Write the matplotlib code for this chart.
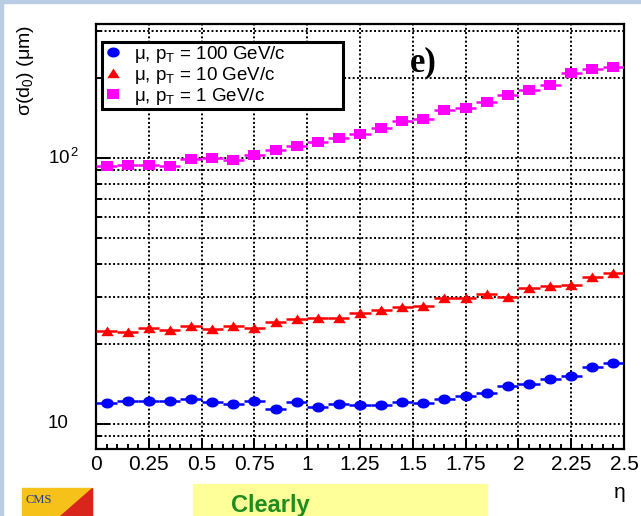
import numpy as np
import matplotlib
matplotlib.use("Agg")
import matplotlib.pyplot as plt
from matplotlib.lines import Line2D
from matplotlib.patches import Rectangle, Polygon
from matplotlib.ticker import LogLocator, NullFormatter, MultipleLocator

plt.rcParams['font.family'] = ['Liberation Sans', 'DejaVu Sans']
plt.rcParams['mathtext.fontset'] = 'custom'
plt.rcParams['mathtext.rm'] = 'Liberation Sans'
plt.rcParams['mathtext.it'] = 'Liberation Sans:italic'

# bin centres in eta (bin width 0.1)
eta = [0.05, 0.15, 0.25, 0.35, 0.45, 0.55, 0.65, 0.75, 0.85, 0.95,
       1.05, 1.15, 1.25, 1.35, 1.45, 1.55, 1.65, 1.75, 1.85, 1.95,
       2.05, 2.15, 2.25, 2.35, 2.45]
half_bin = 0.05

# sigma(d0) in micrometres
sig_100 = [12.0, 12.2, 12.2, 12.2, 12.45, 12.05, 11.9, 12.2, 11.4, 12.1,
           11.6, 11.9, 11.75, 11.8, 12.1, 12.0, 12.4, 12.75, 13.1, 13.9,
           14.1, 14.8, 15.2, 16.4, 17.0]
sig_10 = [22.4, 22.2, 22.9, 22.5, 23.3, 22.8, 23.3, 23.0, 24.2, 24.8,
          25.1, 25.1, 26.2, 26.8, 27.5, 27.8, 29.7, 29.9, 30.8, 30.1,
          32.4, 33.1, 33.4, 35.6, 37.1]
sig_1 = [93.6, 94.7, 94.7, 93.6, 99.1, 100.3, 98.3, 102.4, 107.2, 111.6,
         115.2, 119.6, 123.5, 130.0, 137.7, 141.0, 151.4, 155.1, 162.8, 173.6,
         181.3, 188.0, 210.0, 216.0, 220.4]

xticks = [0, 0.25, 0.5, 0.75, 1, 1.25, 1.5, 1.75, 2, 2.25, 2.5]
xticklabels = ["0", "0.25", "0.5", "0.75", "1", "1.25", "1.5", "1.75",
               "2", "2.25", "2.5"]

labels = ["\u03bc, p$_\\mathregular{T}$ = 100 GeV/c",
          "\u03bc, p$_\\mathregular{T}$ = 10 GeV/c",
          "\u03bc, p$_\\mathregular{T}$ = 1 GeV/c"]
colors = ["#0000ff", "#ff0000", "#ff00ff"]

# slightly wide markers, like the stretched slide screenshot
t = np.linspace(0, 2 * np.pi, 40)
m_circle = list(zip(np.cos(t), 0.8 * np.sin(t)))
m_tri = [(-1, -0.75), (1, -0.75), (0, 0.8), (-1, -0.75)]
m_square = [(-1, -0.8), (1, -0.8), (1, 0.8), (-1, 0.8), (-1, -0.8)]
markers = [m_circle, m_tri, m_square]
msizes = [9, 9, 8.5]

fig = plt.figure(figsize=(6.41, 5.16), dpi=100)

# slide border
fig.patches.append(Rectangle((0, 1 - 3 / 516), 1, 3 / 516, transform=fig.transFigure,
                             color="#b9cde5", zorder=0))
fig.patches.append(Rectangle((0, 0), 3 / 641, 1, transform=fig.transFigure,
                             color="#b9cde5", zorder=0))

ax = fig.add_axes([96 / 641, 1 - 449 / 516, 528 / 641, 425 / 516])
ax.set_yscale("log")
ax.set_xlim(0, 2.5)
ax.set_ylim(8.05, 320)

for y, c, m, ms in zip([sig_100, sig_10, sig_1], colors, markers, msizes):
    ax.errorbar(eta, y, xerr=half_bin, fmt="none", ecolor=c, elinewidth=1.8,
                capsize=0, zorder=3)
    ax.plot(eta, y, linestyle="none", marker=m, markersize=ms, color=c,
            markeredgewidth=0, zorder=4)

ax.set_xticks(xticks, xticklabels)
ax.xaxis.set_minor_locator(MultipleLocator(0.05))
ax.yaxis.set_major_locator(LogLocator(base=10, numticks=10))
ax.yaxis.set_minor_locator(LogLocator(base=10, subs=np.arange(2, 10), numticks=20))
ax.yaxis.set_major_formatter(NullFormatter())
ax.yaxis.set_minor_formatter(NullFormatter())

ax.tick_params(axis="both", which="both", direction="in", width=1.4,
               top=False, right=False, colors="black")
ax.tick_params(axis="x", which="major", length=8, labelsize=15, pad=4)
ax.tick_params(axis="x", which="minor", length=3.8)
ax.tick_params(axis="y", which="major", length=9.5)
ax.tick_params(axis="y", which="minor", length=4.5)

grid_kw = dict(color="black", linestyle=(0, (1, 1.2)), linewidth=1.4)
ax.grid(True, axis="y", which="both", **grid_kw)
ax.grid(True, axis="x", which="major", **grid_kw)
ax.set_axisbelow(True)
for s in ax.spines.values():
    s.set_linewidth(1.6)

# y tick labels in ROOT style
ytr = ax.get_yaxis_transform()
ax.text(-48 / 528, 10, "10", transform=ytr, ha="left", va="center", fontsize=13.5)
ax.text(-48 / 528, 100, "10$^{\\,2}$", transform=ytr, ha="left", va="center",
        fontsize=13.5)

# legend, box stretched to the width seen in the reference
handles = [Line2D([], [], linestyle="none", marker=m, markersize=ms, color=c,
                  markeredgewidth=0)
           for c, m, ms in zip(colors, markers, msizes)]
leg = ax.legend(handles, labels, loc="upper left", mode="expand",
                bbox_to_anchor=(6 / 528, 1 - 83 / 425, 241 / 528, 65 / 425),
                borderaxespad=0, fontsize=13.5, frameon=True, fancybox=False,
                handlelength=1.0, handletextpad=0.6, labelspacing=0.0,
                borderpad=0.1)
leg.get_frame().set_edgecolor("black")
leg.get_frame().set_linewidth(2.2)
leg.get_frame().set_alpha(1)

ax.text((423 - 96) / 528, 1 - (63 - 24) / 425, "e)", transform=ax.transAxes,
        ha="center", va="center", fontsize=25, fontweight="bold",
        family="Liberation Serif")

fig.text(25 / 641, 1 - 25 / 516, "\u03c3(d$_\\mathregular{0}$) (\u03bcm)",
         rotation=90, ha="center", va="top", fontsize=14)
fig.text(620 / 641, 1 - 492 / 516, "\u03b7", ha="center", va="center", fontsize=15)

# bottom of the slide: logo and highlighted box
fig.patches.append(Rectangle((22 / 641, 0), 70 / 641, 28 / 516, transform=fig.transFigure,
                             color="#f6c21a", zorder=1))
fig.patches.append(Polygon([(60 / 641, 0), (92 / 641, 0), (92 / 641, 28 / 516)],
                           closed=True, transform=fig.transFigure, color="#d8261c",
                           zorder=2))
fig.text(25 / 641, 1 - 500 / 516, "CMS", ha="left", va="center", fontsize=9,
         family="Liberation Serif", color="#1f3a93")
fig.patches.append(Rectangle((193 / 641, 0), 294 / 641, 32 / 516, transform=fig.transFigure,
                             color="#ffff99", zorder=1))
fig.text(231 / 641, 1 - 494 / 516, "Clearly", ha="left", va="top", fontsize=17,
         fontweight="bold", color="#1e8c1e")

fig.savefig("out.png", dpi=100)
